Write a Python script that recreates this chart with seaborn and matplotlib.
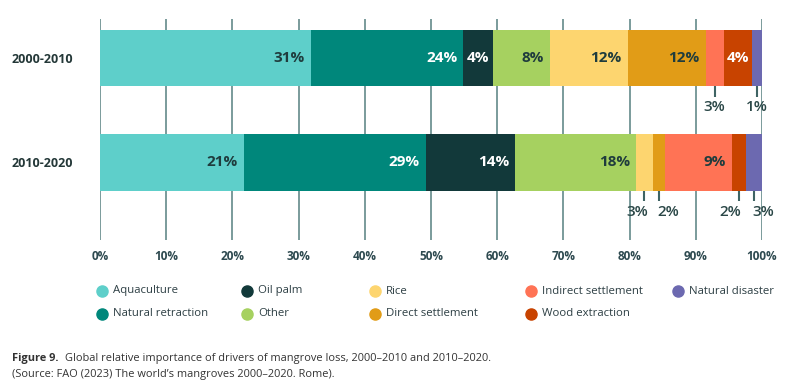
import seaborn as sns
import matplotlib.pyplot as plt
from matplotlib.lines import Line2D
import pandas as pd

PERIODS = ["2000-2010", "2010-2020"]
DRIVERS = ["Aquaculture", "Natural retraction", "Oil palm", "Other", "Rice",
           "Direct settlement", "Indirect settlement", "Wood extraction", "Natural disaster"]
SHARE_2000_2010 = [31.8, 23.1, 4.4, 8.7, 11.7, 11.8, 2.7, 4.3, 1.5]
SHARE_2010_2020 = [21.7, 27.5, 13.5, 18.3, 2.5, 1.8, 10.2, 2.1, 2.4]
LABELS_2000_2010 = ["31%", "24%", "4%", "8%", "12%", "12%", "3%", "4%", "1%"]
LABELS_2010_2020 = ["21%", "29%", "14%", "18%", "3%", "2%", "9%", "2%", "3%"]
X_TICKS = [0, 10, 20, 30, 40, 50, 60, 70, 80, 90, 100]

COLORS = ["#5ecfca", "#00877b", "#12393a", "#a6d160", "#fdd56f",
          "#e19c17", "#ff7355", "#c84300", "#6c69b0"]
WHITE_TEXT = {"Natural retraction", "Oil palm", "Wood extraction"}
# pixel nudges for the small labels hanging under the bars
NUDGE = {("2010-2020", "Rice"): -7, ("2010-2020", "Direct settlement"): 10,
         ("2010-2020", "Wood extraction"): -9, ("2010-2020", "Natural disaster"): 9}

df = pd.DataFrame({
    "period": [p for p in PERIODS for _ in DRIVERS],
    "driver": DRIVERS * 2,
    "share": SHARE_2000_2010 + SHARE_2010_2020,
    "label": LABELS_2000_2010 + LABELS_2010_2020,
})
df["end"] = df.groupby("period")["share"].cumsum()
df["start"] = df["end"] - df["share"]

sns.set_style("white")
plt.rcParams["font.family"] = ["Open Sans", "DejaVu Sans"]

W, H = 789, 391
fig = plt.figure(figsize=(W / 100, H / 100), dpi=100)
ax = fig.add_axes([100 / W, 1 - 240 / H, 662 / W, 221 / H])

bar_h = 0.545
# stacked bars: draw cumulative totals from the last driver backwards
for driver, color in reversed(list(zip(DRIVERS, COLORS))):
    sub = df[df["driver"] == driver]
    sns.barplot(data=sub, x="end", y="period", order=PERIODS, color=color,
                saturation=1, width=bar_h, linewidth=0, errorbar=None,
                orient="h", ax=ax)

dark = "#1f3c3d"
for _, r in df.iterrows():
    y = PERIODS.index(r["period"])
    txt_color = "white" if r["driver"] in WHITE_TEXT else dark
    if r["share"] < 4:
        mid = r["start"] + r["share"] / 2
        ax.plot([mid, mid], [y + bar_h / 2, y + bar_h / 2 + 0.1],
                color="#3f6464", lw=1.5, solid_capstyle="butt")
        ax.annotate(r["label"], xy=(mid, y + bar_h / 2 + 0.2),
                    xytext=(NUDGE.get((r["period"], r["driver"]), 0), 0),
                    textcoords="offset pixels", ha="center", va="center",
                    fontsize=11, fontweight="semibold", color="#2a4747")
    elif r["share"] < 6:
        ax.annotate(r["label"], xy=(r["start"] + r["share"] / 2, y),
                    ha="center", va="center", fontsize=11,
                    fontweight="bold", color=txt_color)
    else:
        ax.annotate(r["label"], xy=(r["end"], y), xytext=(-6, 0),
                    textcoords="offset pixels", ha="right", va="center",
                    fontsize=11, fontweight="bold", color=txt_color)

ax.set_xlim(0, 100)
ax.set_ylim(1.742, -0.373)
ax.set_xticks(X_TICKS)
ax.set_xticklabels([f"{t}%" for t in X_TICKS], fontsize=8.5, fontweight="bold",
                   color="#2e4a50")
ax.set_yticks(range(len(PERIODS)))
ax.set_yticklabels(PERIODS, fontsize=9, fontweight="bold", color="#243838")
ax.tick_params(axis="x", length=0, pad=7)
ax.tick_params(axis="y", length=0, pad=19.5)
ax.set_xlabel("")
ax.set_ylabel("")
ax.xaxis.grid(True, color="#6f9393", lw=1.3)
ax.yaxis.grid(False)
ax.set_axisbelow(True)
sns.despine(ax=ax, left=True, bottom=True)

# legend, laid out in five columns like the report
col_x = [102, 247, 375, 531, 678]
row_y = [291, 314]
for i, (driver, color) in enumerate(zip(DRIVERS, COLORS)):
    x, y = col_x[i // 2], row_y[i % 2]
    fig.add_artist(Line2D([x / W], [1 - y / H], marker="o", markersize=8,
                          color=color, lw=0, transform=fig.transFigure))
    fig.text((x + 11) / W, 1 - y / H, driver, fontsize=8.2, color="#2d3f44",
             va="center", ha="left")

cap_size = 7.9
fig.text(12 / W, 1 - 359 / H, "Figure 9.", fontsize=cap_size, fontweight="bold",
         color="#333333", va="center")
fig.text(65 / W, 1 - 359 / H,
         "Global relative importance of drivers of mangrove loss, 2000\u20132010 and 2010\u20132020.",
         fontsize=cap_size, color="#333333", va="center")
fig.text(12 / W, 1 - 375 / H,
         "(Source: FAO (2023) The world\u2019s mangroves 2000\u20132020. Rome).",
         fontsize=cap_size, color="#333333", va="center")

fig.savefig("out.png", dpi=100)
